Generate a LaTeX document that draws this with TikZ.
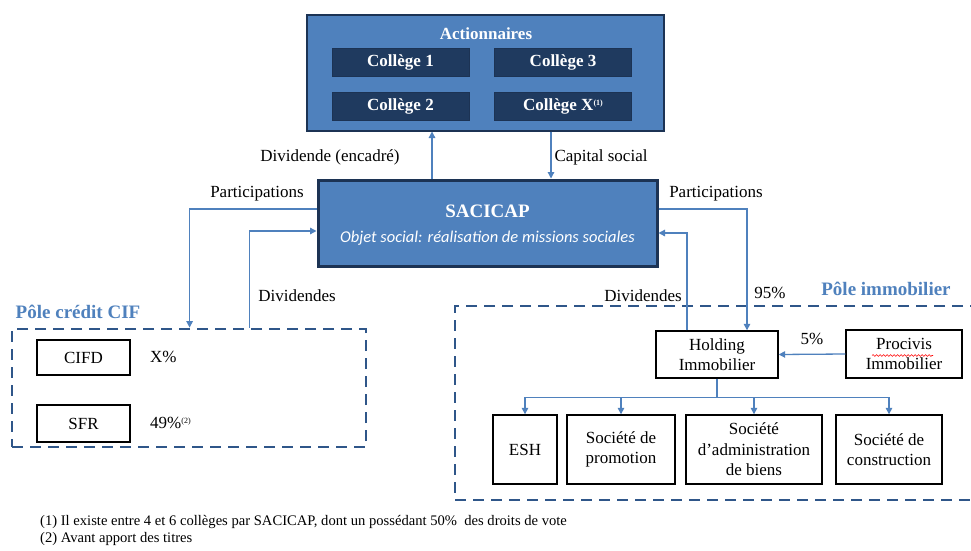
\documentclass[tikz,border=0pt]{standalone}
\usepackage{fontspec}
\setmainfont{Liberation Serif}
\newfontfamily\calib{Carlito}
\usetikzlibrary{arrows.meta,calc,decorations.pathmorphing}
\definecolor{officeblue}{HTML}{4F81BD}
\definecolor{navyfill}{HTML}{1F3A5F}
\definecolor{navyborder}{HTML}{1C3354}
\definecolor{connblue}{HTML}{4F81BD}
\definecolor{dashblue}{HTML}{2F5689}
\definecolor{titleblue}{HTML}{4F81BD}
\begin{document}
\begin{tikzpicture}[x=1pt,y=-1pt,
  plainbox/.style={draw=black, line width=1.4pt, fill=white, align=center,
    font=\fontsize{17}{20.5}\selectfont, inner sep=0pt},
  college/.style={fill=navyfill, draw=navyborder, line width=0.8pt, text=white,
    font=\bfseries\fontsize{17}{20}\selectfont, minimum width=137pt, minimum height=28pt, inner sep=0pt},
  conn/.style={draw=connblue, line width=1.3pt},
  arr/.style={conn, -{Triangle[length=6.5pt,width=6.5pt]}},
  pole/.style={draw=dashblue, line width=2.8pt, dash pattern=on 11pt off 7pt},
  lbl/.style={font=\fontsize{17}{20}\selectfont, inner sep=0pt},
  poletitle/.style={text=titleblue, font=\bfseries\fontsize{19}{22}\selectfont, inner sep=0pt},
  foot/.style={font=\fontsize{14.6}{17}\selectfont, inner sep=0pt, anchor=west}
]
\clip (0,0) rectangle (971,551);
\fill[white] (0,0) rectangle (971,551);

% Actionnaires
\node[draw=navyborder, line width=2pt, fill=officeblue, minimum width=357pt, minimum height=115pt, inner sep=0pt] (act) at (485.5,73) {};
\node[text=white, font=\bfseries\fontsize{17}{20}\selectfont, inner sep=0pt] (acttitle) at (486,34) {Actionnaires};
\node[college] (c1) at (400.5,62) {Collège 1};
\node[college] (c3) at (563,62.5) {Collège 3};
\node[college] (c2) at (400.5,106.5) {Collège 2};
\node[college] (cx) at (563,106.5) {Collège X\raisebox{5pt}{\fontsize{8}{8}\selectfont(1)}};

% SACICAP
\node[fill=officeblue, draw=navyborder, line width=3pt, minimum width=339pt, minimum height=86pt, inner sep=0pt] (sac) at (487.5,223) {};
\node[text=white, font=\bfseries\fontsize{19}{22}\selectfont, inner sep=0pt] (sacname) at (487.5,211) {SACICAP};
\node[text=white, font=\calib\itshape\fontsize{16.5}{20}\selectfont, inner sep=0pt] (sacobj) at (487.5,238) {Objet social: réalisation de missions sociales};

% connectors between Actionnaires and SACICAP
\coordinate (up1) at ([xshift=-55.5pt]sac.north);
\coordinate (dn1) at ([xshift=63.5pt]sac.north);
\draw[arr] (up1) -- (up1 |- act.south);
\draw[arr] (dn1 |- act.south) -- (dn1);
\node[lbl] (ldivenc) at (330,157) {Dividende (encadré)};
\node[lbl] (lcap) at (601,157) {Capital social};

% Pole credit CIF
\node[pole, minimum width=354pt, minimum height=118pt, inner sep=0pt] (cif) at (189,388) {};
\node[poletitle] (tcif) at (78,312) {Pôle crédit CIF};
\node[plainbox, minimum width=93pt, minimum height=35pt] (cifd) at (83.5,357.5) {CIFD};
\node[plainbox, minimum width=93pt, minimum height=37pt] (sfr) at (83.5,423.5) {SFR};
\node[lbl, anchor=west] (lx) at (150,357) {X\%};
\node[lbl, anchor=west] (l49) at (150,423) {49\%\raisebox{5pt}{\fontsize{8}{8}\selectfont(2)}};

\draw[arr] ([yshift=14pt]sac.west) -| ([xshift=179pt]cif.north west);
\draw[arr] ([xshift=239pt]cif.north west) |- ([yshift=-8pt]sac.west);
\node[lbl] (lpartl) at (257,194) {Participations};
\node[lbl] (ldivl) at (297,296) {Dividendes};

% Pole immobilier
\node[pole, minimum width=535pt, minimum height=194pt, inner sep=0pt] (imm) at (722.5,403) {};
\node[poletitle] (timm) at (886,289) {Pôle immobilier};
\node[plainbox, minimum width=122pt, minimum height=47pt] (hold) at (717,354.5) {Holding\\Immobilier};
\node[plainbox, minimum width=116pt, minimum height=48pt] (proc) at (904,354) {Procivis\\Immobilier};
\draw[red, line width=0.6pt, decorate, decoration={snake, amplitude=0.9pt, segment length=3.5pt}] ([xshift=-32pt,yshift=-1.5pt]proc.center) -- ([xshift=29pt,yshift=-1.5pt]proc.center);

\node[plainbox, minimum width=64pt, minimum height=69pt] (esh) at (525,449.5) {ESH};
\node[plainbox, minimum width=108pt, minimum height=69pt] (promo) at (621,449.5) {Société de\\promotion};
\node[plainbox, minimum width=136pt, minimum height=69pt] (admin) at (754,449.5) {Société\\d’administration\\de biens};
\node[plainbox, minimum width=106pt, minimum height=69pt] (constr) at (889,449.5) {Société de\\construction};

\draw[arr] ([yshift=14pt]sac.east) -| ([xshift=30pt]hold.north);
\draw[arr] ([xshift=-30pt]hold.north) |- ([yshift=-10pt]sac.east);
\node[lbl] (lpartr) at (716,194) {Participations};
\node[lbl] (ldivr) at (643,296) {Dividendes};
\node[lbl] (l95) at (770,293) {95\%};

\draw[arr] (proc.west) -- (hold.east);
\node[lbl] (l5) at (812,339) {5\%};

\coordinate (bus) at ([yshift=-19pt]hold.south);
\draw[conn] (hold.south) -- (bus);
\draw[arr] (bus) -| (esh.north);
\draw[arr] (bus) -| (promo.north);
\draw[arr] (bus) -| (admin.north);
\draw[arr] (bus) -| (constr.north);

% footnotes
\node[foot] (fn1) at (40,522) {(1) Il existe entre 4 et 6 collèges par SACICAP, dont un possédant 50\%\ \ des droits de vote};
\node[foot] (fn2) at (40,539) {(2) Avant apport des titres};
\end{tikzpicture}
\end{document}
